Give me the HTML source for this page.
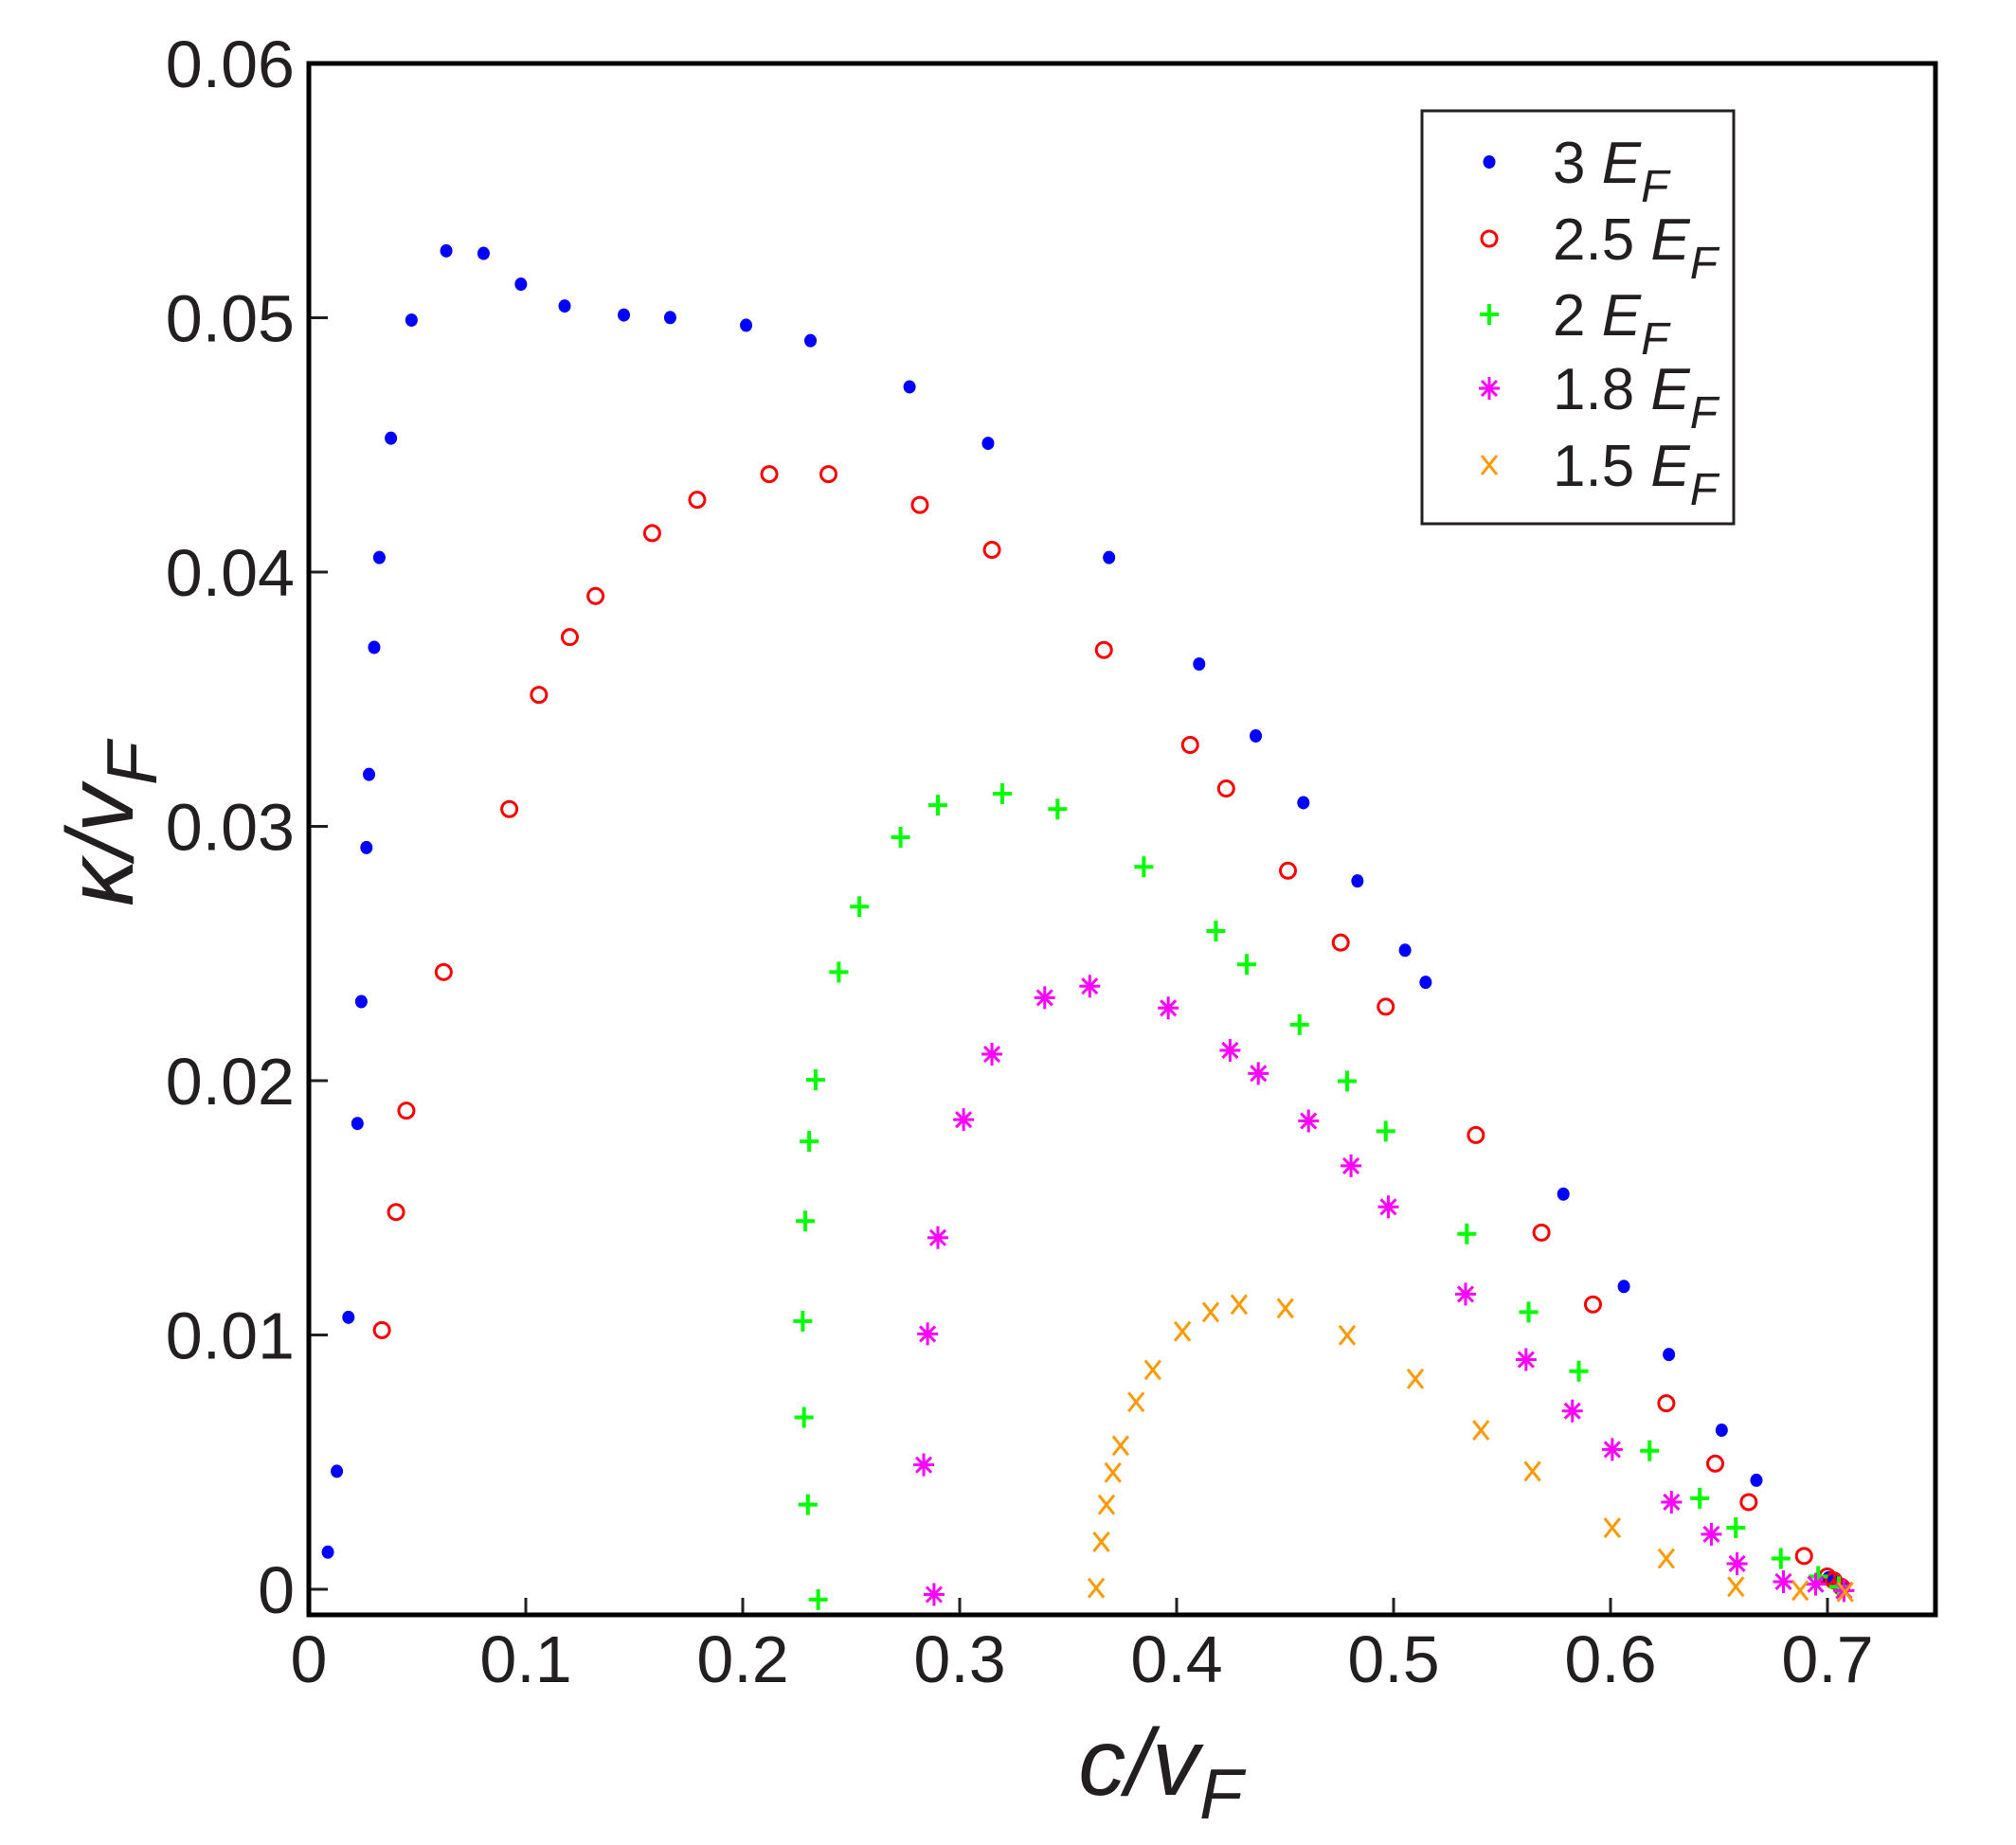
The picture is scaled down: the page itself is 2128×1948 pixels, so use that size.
<!DOCTYPE html>
<html><head><meta charset="utf-8"><style>
html,body{margin:0;padding:0;background:#fff;}
svg{display:block;}
text{font-family:"Liberation Sans",sans-serif;fill:#231f20;}
</style></head><body>
<svg id="s" width="2128" height="1948" viewBox="0 0 2128 1948" xmlns="http://www.w3.org/2000/svg">
<rect x="326" y="67" width="1717" height="1638" fill="none" stroke="#000" stroke-width="5"/>
<g id="ticks" stroke="#231f20" stroke-width="3"></g>
<g id="labels" font-size="70" text-anchor="middle"></g>
<g id="pts"></g>
<text x="1225" y="1895" font-size="100" font-style="italic" text-anchor="middle">c/v<tspan font-size="75" dy="25">F</tspan></text>
<text transform="translate(140,870) rotate(-90)" font-size="100" font-style="italic" text-anchor="middle">κ/v<tspan font-size="75" dy="25">F</tspan></text>
<rect x="1501" y="117" width="329" height="436" fill="#fff" stroke="#231f20" stroke-width="3"/>
<g id="leg" font-size="62"></g>
</svg>
<script>
var NS="http://www.w3.org/2000/svg";
function el(p,t,a,txt){var e=document.createElementNS(NS,t);for(var k in a)e.setAttribute(k,a[k]);if(txt!==undefined)e.textContent=txt;p.appendChild(e);return e;}
var tk=document.getElementById('ticks'),lb=document.getElementById('labels');
function X(v){return 326+v*2290;}function Y(v){return 1678-v*26850;}
for(var i=0;i<=6;i++){var y=Y(i*0.01);if(i<6)el(tk,'line',{x1:328,y1:y,x2:346,y2:y});
el(lb,'text',{x:311,y:y+25,'text-anchor':'end'},i==0?'0':(i*0.01).toFixed(2));}
for(var i=0;i<=7;i++){var x=X(i*0.1);if(i>0)el(tk,'line',{x1:x,y1:1703,x2:x,y2:1687});
el(lb,'text',{x:x,y:1776},i==0?'0':(i*0.1).toFixed(1));}
function M(dx){return 1.3585*dx+1;}function N(dy){return 1.355*dy+3.3;}
var pg=document.getElementById('pts');
function mark(g,type,x,y){
 if(type==0)el(g,'ellipse',{cx:x,cy:y,rx:6.5,ry:7,fill:'#0000ff'});
 else if(type==1)el(g,'circle',{cx:x,cy:y,r:8,fill:'none',stroke:'#ff0000','stroke-width':3});
 else if(type==2){el(g,'path',{d:'M'+(x-10)+' '+y+'H'+(x+10)+'M'+x+' '+(y-11)+'V'+(y+11),stroke:'#00ff00','stroke-width':4});}
 else if(type==3){var d='M'+(x-11)+' '+y+'H'+(x+11)+'M'+x+' '+(y-12)+'V'+(y+12)+'M'+(x-8)+' '+(y-8)+'L'+(x+8)+' '+(y+8)+'M'+(x-8)+' '+(y+8)+'L'+(x+8)+' '+(y-8);el(g,'path',{d:d,stroke:'#ff00ff','stroke-width':3});}
 else {var d='M'+(x-8)+' '+(y-10)+'L'+(x+8)+' '+(y+10)+'M'+(x-8)+' '+(y+10)+'L'+(x+8)+' '+(y-10);el(g,'path',{d:d,stroke:'#ff9900','stroke-width':3});}
}
var D=[
[[254,1207],[261,1144],[270,1024],[277,873],[280,778],[284,658],[286,601],[290,502],[294,432],[303,339],[319,247],[346,193],[375,195],[404,219],[438,236],[484,243],[520,245],[579,251],[629,263],[706,299],[767,343],[861,432],[931,515],[975,571],[1012,623],[1054,684],[1091,738],[1107,763],[1214,928],[1261,1000],[1296,1053],[1337,1112],[1364,1151],[1420,1227],[1425,1230],[1430,1234]],
[[296,1034],[307,942],[315,863],[344,755],[395,628],[418,539],[442,494],[462,462],[506,413],[541,387],[597,367],[643,367],[714,391],[770,426],[857,504],[924,578],[952,612],[1000,676],[1041,732],[1076,782],[1146,882],[1197,958],[1237,1014],[1294,1091],[1332,1138],[1358,1168],[1401,1210],[1419,1226],[1424,1229],[1430,1234]],
[[635,1244],[627,1170],[624,1102],[623,1027],[625,949],[628,887],[633,839],[651,755],[667,704],[699,650],[728,625],[778,616],[821,628],[888,673],[944,723],[968,749],[1009,796],[1046,840],[1076,879],[1139,959],[1187,1020],[1226,1066],[1281,1128],[1320,1165],[1348,1188],[1383,1212],[1412,1226],[1428,1234]],
[[725,1240],[717,1139],[720,1037],[728,962],[748,870],[770,819],[811,775],[846,766],[907,783],[955,816],[977,834],[1016,871],[1049,906],[1078,938],[1138,1006],[1185,1057],[1221,1097],[1252,1127],[1298,1168],[1329,1193],[1349,1216],[1385,1230],[1410,1232],[1432,1237]],
[[851,1235],[855,1199],[859,1170],[864,1145],[870,1124],[882,1090],[895,1065],[918,1035],[940,1020],[962,1014],[998,1017],[1046,1038],[1099,1072],[1150,1112],[1190,1144],[1252,1188],[1294,1212],[1348,1234],[1398,1237],[1433,1238]]];
for(var s=0;s<5;s++)for(var j=0;j<D[s].length;j++)mark(pg,s,M(D[s][j][0]),N(D[s][j][1]));
var lg=document.getElementById('leg');var names=['3','2.5','2','1.8','1.5'];var ly=[171,252,332,410,491];
for(var s=0;s<5;s++){mark(lg,s,1572,ly[s]);
 var t=el(lg,'text',{x:1639,y:ly[s]+22},names[s]+' ');
 var e=el(t,'tspan',{'font-style':'italic'},'E');var f=el(t,'tspan',{'font-style':'italic','font-size':'48',dy:'20'},'F');}
</script>
</body></html>
